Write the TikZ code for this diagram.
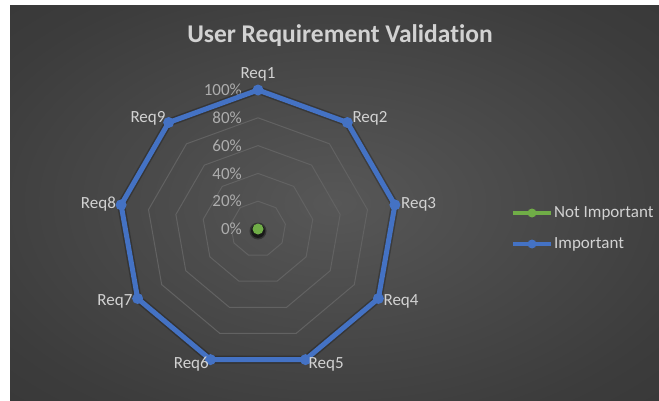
\documentclass[tikz,border=0pt]{standalone}
\usepackage{fontspec}
\setmainfont{Carlito}[Ligatures=NoCommon]
\definecolor{bgin}{HTML}{575757}
\definecolor{bgmid}{HTML}{3C3C3C}
\definecolor{bgout}{HTML}{262626}
\definecolor{impblue}{HTML}{4472C4}
\definecolor{notgreen}{HTML}{70AD47}
\definecolor{ringgray}{HTML}{626262}
\definecolor{txtgray}{HTML}{D2D2D2}
\definecolor{pctgray}{HTML}{ADADAD}
\pgfdeclareradialshading{chartbg}{\pgfpoint{0bp}{0bp}}{color(0bp)=(bgin); color(30bp)=(bgmid); color(70bp)=(bgout)}
\tikzset{
  ringline/.style={draw=ringgray, line width=1pt},
  impline/.style={draw=impblue, line width=5pt, line join=round, line cap=round},
  dot/.style={circle, fill=impblue, inner sep=0pt, minimum size=11pt},
  lbl/.style={text=txtgray, inner sep=0pt, font=\fontsize{17}{19}\selectfont},
  pct/.style={text=pctgray, inner sep=0pt, anchor=east, font=\fontsize{17}{19}\selectfont},
}
\begin{document}
\begin{tikzpicture}[x=1pt,y=1pt]
\useasboundingbox (0,0) rectangle (659,400);
\shade[shading=chartbg] (10,0) rectangle (659,394);
\node[text=txtgray, font=\bfseries\fontsize{25.5}{28}\selectfont] (title) at (340,364) {User Requirement Validation};
% rings and scale
\begin{scope}[shift={(258,171)}]
\foreach \r in {27.8,55.6,83.4,111.2}
  \draw[ringline] (90:\r) \foreach \a in {50,10,...,-230} { -- (\a:\r) } -- cycle;
\node[pct] (P0) at (-16,0) {0\%};
\node[pct] (P20) at (-16,27.8) {20\%};
\node[pct] (P40) at (-16,55.6) {40\%};
\node[pct] (P60) at (-16,83.4) {60\%};
\node[pct] (P80) at (-16,111.2) {80\%};
\node[pct] (P100) at (-16,139) {100\%};
\coordinate (R1) at (90:139);
\coordinate (R2) at (50:139);
\coordinate (R3) at (10:139);
\coordinate (R4) at (-30:139);
\coordinate (R5) at (-70:139);
\coordinate (R6) at (-110:139);
\coordinate (R7) at (-150:139);
\coordinate (R8) at (170:139);
\coordinate (R9) at (130:139);
\coordinate (N0) at (0,0);
\end{scope}
% important series
\draw[black, opacity=0.25, line width=8pt, line join=round, shift={(1,-2)}]
  (R1) -- (R2) -- (R3) -- (R4) -- (R5) -- (R6) -- (R7) -- (R8) -- (R9) -- cycle;
\draw[impline] (R1) -- (R2) -- (R3) -- (R4) -- (R5) -- (R6) -- (R7) -- (R8) -- (R9) -- cycle;
\foreach \i in {1,...,9}
  \node[dot] at (R\i) {};
% not important series
\fill[black, opacity=0.35] ([shift={(0,-2)}]N0) circle (8.5);
\fill[black, opacity=0.5] ([shift={(0,-2)}]N0) circle (7);
\node[circle, fill=notgreen, inner sep=0pt, minimum size=11pt] (G0) at (N0) {};
% axis labels
\node[lbl, anchor=center] (L1) at ([shift={(0,16)}]R1) {Req1};
\node[lbl, anchor=west] (L2) at ([shift={(5,4)}]R2) {Req2};
\node[lbl, anchor=west] (L3) at ([shift={(6,1)}]R3) {Req3};
\node[lbl, anchor=west] (L4) at ([shift={(5,-3)}]R4) {Req4};
\node[lbl, anchor=west] (L5) at ([shift={(3,-5)}]R5) {Req5};
\node[lbl, anchor=east] (L6) at ([shift={(-1.5,-5)}]R6) {Req6};
\node[lbl, anchor=east] (L7) at ([shift={(-5,-3)}]R7) {Req7};
\node[lbl, anchor=east] (L8) at ([shift={(-5,1)}]R8) {Req8};
\node[lbl, anchor=east] (L9) at ([shift={(-3,4)}]R9) {Req9};
% legend
\coordinate (G1) at (513,187);
\coordinate (G2) at (551,187);
\coordinate (B1) at (513,156);
\coordinate (B2) at (551,156);
\draw[notgreen, line width=4pt] (G1) -- (G2);
\node[circle, fill=notgreen, inner sep=0pt, minimum size=9pt] (GM) at (532,187) {};
\node[lbl, anchor=west] (GT) at (554,187) {Not Important};
\draw[impblue, line width=4pt] (B1) -- (B2);
\node[circle, fill=impblue, inner sep=0pt, minimum size=9pt] (BM) at (532,156) {};
\node[lbl, anchor=west] (BT) at (554,156) {Important};
\end{tikzpicture}
\end{document}
